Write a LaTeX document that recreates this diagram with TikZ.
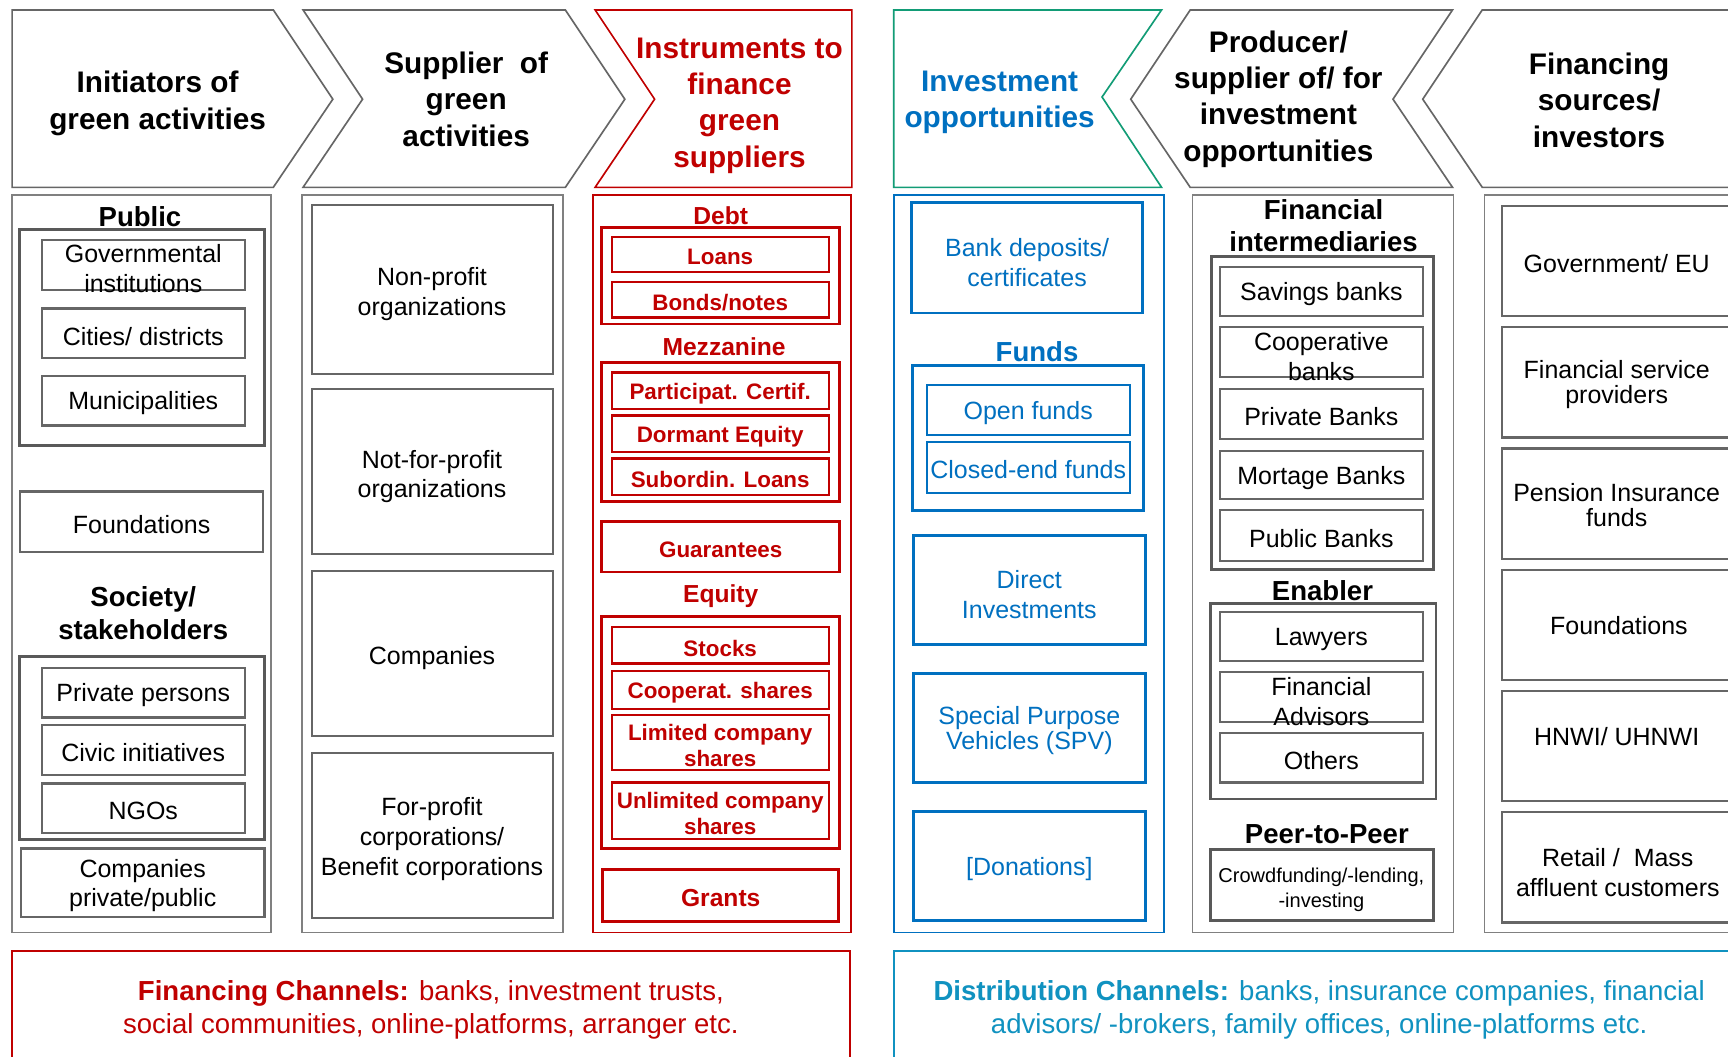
\documentclass[tikz,border=0pt]{standalone}
\usepackage{fontspec}
\setmainfont{Liberation Sans}
\usetikzlibrary{fit}

\definecolor{rd}{RGB}{192,0,0}
\definecolor{bl}{RGB}{0,112,192}
\definecolor{tl}{RGB}{16,146,192}
\definecolor{gn}{RGB}{18,156,118}
\definecolor{gline}{RGB}{102,102,102}
\definecolor{gcol}{RGB}{128,128,128}
\definecolor{gdark}{RGB}{89,89,89}

\tikzset{
  frame/.style={inner sep=0pt, outer sep=0pt},
  chev/.style={draw=gline, line width=0.9pt, line join=miter},
  colbox/.style={frame, draw=gcol, line width=0.8pt},
  grpbox/.style={frame, draw=gdark, line width=1.6pt},
  itembox/.style={frame, draw=gline, line width=1.2pt},
  redcol/.style={frame, draw=rd, line width=0.8pt},
  redgrp/.style={frame, draw=rd, line width=1.6pt},
  reditem/.style={frame, draw=rd, line width=1.2pt},
  bluecol/.style={frame, draw=bl, line width=0.8pt},
  bluegrp/.style={frame, draw=bl, line width=1.6pt},
  blueitem/.style={frame, draw=bl, line width=1.2pt},
  label base/.style={inner sep=0pt, align=center},
  hdr/.style={label base, yshift=-2.3pt, font=\fontsize{16.2}{19.8}\selectfont\bfseries},
  sub/.style={label base, yshift=0.3pt, font=\fontsize{15}{17.6}\selectfont\bfseries},
  txt/.style={label base, yshift=-1.5pt, font=\fontsize{13.6}{16.2}\selectfont},
  tighttxt/.style={label base, yshift=-1.5pt, font=\fontsize{13.6}{13.6}\selectfont},
  smalltxt/.style={label base, yshift=-1.5pt, font=\fontsize{10.9}{13.2}\selectfont},
  redtxt/.style={label base, yshift=-1.5pt, text=rd, font=\fontsize{12.2}{13.8}\selectfont\bfseries},
  redsub/.style={label base, yshift=0.3pt, text=rd, font=\fontsize{13.4}{16}\selectfont\bfseries},
  bottomtxt/.style={label base, yshift=-1.5pt, font=\fontsize{15}{18}\selectfont},
}

\begin{document}
\begin{tikzpicture}[x=0.6pt,y=-0.6pt]
\useasboundingbox (0,0) rectangle (1568,959);
\clip (0,0) rectangle (1568,959);
\fill[white] (0,0) rectangle (1568,959);

% ---------- header chevrons ----------
\draw[chev] (11,9) -- (248,9) -- (302,90) -- (248,170) -- (11,170) -- cycle;
\node[hdr] (h1) at (143,90) {Initiators of\\green activities};

\draw[chev] (275,9) -- (513,9) -- (567,90) -- (513,170) -- (275,170) -- (329,90) -- cycle;
\node[hdr] (h2) at (423,86) {Supplier\ \ of\\green\\activities};

\draw[chev, draw=rd] (540,9) -- (773,9) -- (773,170) -- (540,170) -- (594,90) -- cycle;
\node[hdr, text=rd] (h3) at (671,92) {Instruments to\\finance\\green\\suppliers};

\draw[chev, draw=gn] (811,9) -- (1054,9) -- (1000,88) -- (1054,170) -- (811,170) -- cycle;
\node[hdr, text=bl] (h4) at (907,89) {Investment\\opportunities};

\draw[chev] (1080,9) -- (1318,9) -- (1264,90) -- (1318,170) -- (1080,170) -- (1026,90) -- cycle;
\node[hdr] (h5) at (1160,86) {Producer/\\supplier of/ for\\investment\\opportunities};

\draw[chev] (1345,9) -- (1600,9) -- (1600,170) -- (1345,170) -- (1291,90) -- cycle;
\node[hdr] (h6) at (1451,87) {Financing\\sources/\\investors};

% ---------- column 1: initiators ----------
\node[colbox, fit={(11,177)(246,846)}] (c1) {};
\node[sub] (pubT) at (127,197) {Public};
\node[grpbox, fit={(18,208)(240,404)}] (pub) {};
\node[itembox, fit={(38,218)(222,263)}] (gov) {};
\node[txt] (govT) at (130,241) {Governmental\\institutions};
\node[itembox, fit={(38,280)(222,325)}] (city) {};
\node[txt] (cityT) at (city.center) {Cities/ districts};
\node[itembox, fit={(38,341)(222,386)}] (muni) {};
\node[txt] (muniT) at (muni.center) {Municipalities};
\node[itembox, fit={(18,446)(239,501)}] (fnd1) {};
\node[txt] (fnd1T) at (fnd1.center) {Foundations};
\node[sub] (socT) at (130,557) {Society/\\stakeholders};
\node[grpbox, fit={(18,596)(240,762)}] (soc) {};
\node[itembox, fit={(38,606)(222,651)}] (pers) {};
\node[txt] (persT) at (pers.center) {Private persons};
\node[itembox, fit={(38,658)(222,703)}] (civic) {};
\node[txt] (civicT) at (civic.center) {Civic initiatives};
\node[itembox, fit={(38,711)(222,756)}] (ngo) {};
\node[txt] (ngoT) at (ngo.center) {NGOs};
\node[itembox, fit={(19,770)(240,832)}] (comp1) {};
\node[txt] (comp1T) at (comp1.center) {Companies\\private/public};

% ---------- column 2: suppliers ----------
\node[colbox, fit={(274,177)(511,846)}] (c2) {};
\node[itembox, fit={(283,186)(502,339)}] (npo) {};
\node[txt] (npoT) at (392,264) {Non-profit\\organizations};
\node[itembox, fit={(283,353)(502,503)}] (nfp) {};
\node[txt] (nfpT) at (392,430) {Not-for-profit\\organizations};
\node[itembox, fit={(283,518)(502,668)}] (comp2) {};
\node[txt] (comp2T) at (392,595) {Companies};
\node[itembox, fit={(283,683)(502,833)}] (fpc) {};
\node[txt] (fpcT) at (392,759) {For-profit\\corporations/\\Benefit corporations};

% ---------- column 3: instruments ----------
\node[redcol, fit={(538,177)(772,846)}] (c3) {};
\node[redsub] (debtT) at (654,196) {Debt};
\node[redgrp, fit={(546,206)(762,294)}] (debt) {};
\node[reditem, fit={(555,215)(752,247)}] (loans) {};
\node[redtxt] (loansT) at (loans.center) {Loans};
\node[reditem, fit={(555,256)(752,288)}] (bonds) {};
\node[redtxt] (bondsT) at (bonds.center) {Bonds/notes};
\node[redsub] (mezzT) at (657,315) {Mezzanine};
\node[redgrp, fit={(546,329)(762,455)}] (mezz) {};
\node[reditem, fit={(555,338)(752,371)}] (part) {};
\node[redtxt] (partT) at (part.center) {Participat. Certif.};
\node[reditem, fit={(555,377)(752,410)}] (dorm) {};
\node[redtxt] (dormT) at (dorm.center) {Dormant Equity};
\node[reditem, fit={(555,416)(752,449)}] (subl) {};
\node[redtxt] (sublT) at (subl.center) {Subordin. Loans};
\node[redgrp, fit={(546,473)(762,519)}] (guar) {};
\node[redtxt] (guarT) at (guar.center) {Guarantees};
\node[redsub] (eqT) at (654,541) {Equity};
\node[redgrp, fit={(546,559)(762,770)}] (eq) {};
\node[reditem, fit={(555,569)(752,602)}] (stocks) {};
\node[redtxt] (stocksT) at (stocks.center) {Stocks};
\node[reditem, fit={(555,609)(752,643)}] (coop) {};
\node[redtxt] (coopT) at (coop.center) {Cooperat. shares};
\node[reditem, fit={(555,649)(752,699)}] (ltd) {};
\node[redtxt] (ltdT) at (ltd.center) {Limited company\\shares};
\node[reditem, fit={(555,710)(752,761)}] (unl) {};
\node[redtxt] (unlT) at (unl.center) {Unlimited company\\shares};
\node[redgrp, fit={(547,789)(761,836)}] (grants) {};
\node[redsub, yshift=-1.8pt] (grantsT) at (grants.center) {Grants};

% ---------- column 4: investment opportunities ----------
\node[bluecol, fit={(811,177)(1056,846)}] (c4) {};
\node[bluegrp, fit={(827,184)(1037,284)}] (bank) {};
\node[txt, text=bl] (bankT) at (932,236) {Bank deposits/\\certificates};
\node[sub, text=bl] (fundsT) at (941,320) {Funds};
\node[bluegrp, fit={(828,332)(1038,463)}] (funds) {};
\node[blueitem, fit={(841,349)(1025,395)}] (open) {};
\node[txt, text=bl] (openT) at (open.center) {Open funds};
\node[blueitem, fit={(841,401)(1025,447)}] (closed) {};
\node[txt, text=bl] (closedT) at (closed.center) {Closed-end funds};
\node[bluegrp, fit={(829,486)(1039,585)}] (direct) {};
\node[txt, text=bl] (directT) at (934,537) {Direct\\Investments};
\node[bluegrp, fit={(829,611)(1039,710)}] (spv) {};
\node[tighttxt, text=bl] (spvT) at (934,660) {Special Purpose\\Vehicles (SPV)};
\node[bluegrp, fit={(829,736)(1039,835)}] (don) {};
\node[txt, text=bl] (donT) at (934,786) {[Donations]};

% ---------- column 5: producers / suppliers ----------
\node[colbox, fit={(1082,177)(1319,846)}] (c5) {};
\node[sub] (fiT) at (1201,205) {Financial\\intermediaries};
\node[grpbox, fit={(1099,233)(1301,517)}] (fi) {};
\node[itembox, fit={(1107,242)(1291,287)}] (sav) {};
\node[txt] (savT) at (sav.center) {Savings banks};
\node[itembox, fit={(1107,297)(1291,342)}] (coopb) {};
\node[txt] (coopbT) at (1199,321) {Cooperative\\banks};
\node[itembox, fit={(1107,353)(1291,398)}] (priv) {};
\node[txt] (privT) at (priv.center) {Private Banks};
\node[itembox, fit={(1107,409)(1291,453)}] (mort) {};
\node[txt] (mortT) at (mort.center) {Mortage Banks};
\node[itembox, fit={(1107,463)(1291,509)}] (pubb) {};
\node[txt] (pubbT) at (pubb.center) {Public Banks};
\node[sub] (enT) at (1200,536) {Enabler};
\node[grpbox, fit={(1098,548)(1303,725)}] (en) {};
\node[itembox, fit={(1107,555)(1291,600)}] (law) {};
\node[txt] (lawT) at (law.center) {Lawyers};
\node[itembox, fit={(1107,610)(1291,655)}] (adv) {};
\node[txt] (advT) at (1199,634) {Financial\\Advisors};
\node[itembox, fit={(1107,665)(1291,710)}] (oth) {};
\node[txt] (othT) at (oth.center) {Others};
\node[sub] (p2pT) at (1204,757) {Peer-to-Peer};
\node[grpbox, fit={(1098,771)(1301,835)}] (p2p) {};
\node[smalltxt] (p2pX) at (1199,805) {Crowdfunding/-lending,\\-investing};

% ---------- column 6: financing sources ----------
\node[colbox, fit={(1347,177)(1590,846)}] (c6) {};
\node[itembox, fit={(1363,187)(1572,287)}] (eu) {};
\node[txt] (euT) at (1467,237) {Government/ EU};
\node[itembox, fit={(1363,297)(1572,397)}] (fsp) {};
\node[tighttxt] (fspT) at (1467,346) {Financial service\\providers};
\node[itembox, fit={(1363,407)(1572,507)}] (pens) {};
\node[tighttxt] (pensT) at (1467,456) {Pension Insurance\\funds};
\node[itembox, fit={(1363,517)(1572,617)}] (fnd6) {};
\node[txt] (fnd6T) at (1469,565) {Foundations};
\node[itembox, fit={(1363,627)(1572,727)}] (hnwi) {};
\node[txt] (hnwiT) at (1467,666) {HNWI/ UHNWI};
\node[itembox, fit={(1363,737)(1572,837)}] (ret) {};
\node[txt] (retT) at (1468,789) {Retail /\ \ Mass\\affluent customers};

% ---------- channels ----------
\node[frame, draw=rd, line width=1.2pt, fit={(11,863)(771,990)}] (fin) {};
\node[bottomtxt, text=rd] (finT) at (391,914) {\textbf{Financing Channels:} banks, investment trusts,\\social communities, online-platforms, arranger etc.};
\node[frame, draw=tl, line width=1.2pt, fit={(811,863)(1590,990)}] (dist) {};
\node[bottomtxt, text=tl] (distT) at (1197,914) {\textbf{Distribution Channels:} banks, insurance companies, financial\\advisors/ -brokers, family offices, online-platforms etc.};
\end{tikzpicture}
\end{document}
